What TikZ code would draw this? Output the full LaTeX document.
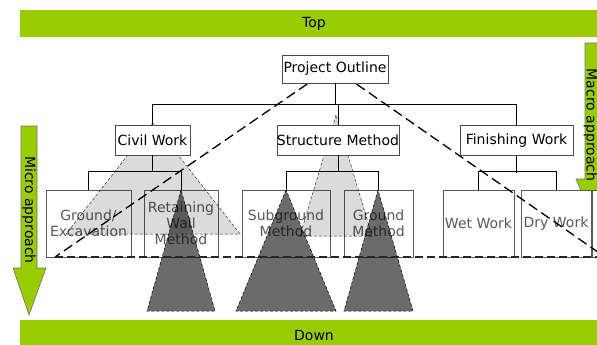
\documentclass[tikz,border=0pt]{standalone}
\usepackage{fontspec}
\setmainfont{DejaVu Sans}
\usetikzlibrary{positioning, calc}
\definecolor{barGreen}{RGB}{153,204,0}

\tikzset{
	every node/.style={font=\fontsize{14}{16}\selectfont},
	headbox/.style={draw=black!70, line width=0.8pt, fill=white, inner sep=0pt, minimum height=30pt},
	leafbox/.style={draw=black!65, line width=0.8pt, fill=white, inner sep=0pt, minimum height=67pt, text=black!65, align=center},
	link/.style={draw=black, line width=0.9pt},
	lighttri/.style={fill=black, fill opacity=0.14, draw=black, draw opacity=0.8, dash pattern=on 3pt off 2pt, line width=0.5pt},
	darktri/.style={fill=black, fill opacity=0.58, draw=black, dash pattern=on 3pt off 2pt, line width=0.5pt},
	slant/.style={draw=black, line width=1.3pt, dash pattern=on 10pt off 5pt},
	basedash/.style={draw=black!85, line width=1.8pt, dash pattern=on 8pt off 4pt},
	greenarrow/.style={fill=barGreen, draw=black!55, line width=0.6pt}
}

\begin{document}
\begin{tikzpicture}[x=1pt, y=-1pt]
					\useasboundingbox (0,0) rectangle (597,345);
					\clip (0,0) rectangle (597,345);
					
					% top and bottom bars
					\fill[barGreen] (20,10) rectangle (597,37);
					\fill[barGreen] (20,320) rectangle (597,346);
					\node (top) at (314,24) {Top};
					\node (down) at (314,335) {Down};
					
					% approach arrows
					\path[greenarrow] (21,126) -- (37,126) -- (37,268) -- (46,268) -- (29,315) -- (13,268) -- (21,268) -- cycle;
					\node[rotate=-90] (micro) at (29,210) {Micro approach};
					\path[greenarrow] (585,43) -- (601,43) -- (601,179) -- (610,179) -- (593,220) -- (576,179) -- (585,179) -- cycle;
					\node[rotate=-90, inner sep=0pt] (macro) at (590.5,125) {Macro approach};
					
					% lower level
					\node (11) at (88.5,223.5) [leafbox, minimum width=85pt] {Ground/\\Excavation};
					\node (12) at (181,223.5) [leafbox, minimum width=74pt] {Retaining\\Wall\\Method};
					\node (21) at (286,223.5) [leafbox, minimum width=88pt] {Subground\\Method};
					\node (22) at (378.5,223.5) [leafbox, minimum width=69pt] {Ground\\Method};
					\node (31) at (478.5,223.5) [leafbox, minimum width=71pt] {Wet Work};
					\node (32) at (556,223.5) [leafbox, minimum width=70pt] {Dry Work};
					\node (33) at (617,223.5) [leafbox, minimum width=50pt] {};
					
					% triangles
					\path[lighttri] (153,123) -- (66,234) -- (240,234) -- cycle;
					\path[lighttri] (336,115) -- (300,236) -- (372,236) -- cycle;
					\path[darktri] (181,190) -- (147,311) -- (215,311) -- cycle;
					\path[darktri] (286,190) -- (236,311) -- (336,311) -- cycle;
					\path[darktri] (378,190) -- (344,311) -- (413,311) -- cycle;
					
					\draw[slant] (332,67) -- (55,257);
					\draw[slant] (332,67) -- (605,257);
					\draw[basedash] (55,257) -- (597,257);
					
					% upper level
					\node (0) at (335,69) [headbox, minimum width=106pt, minimum height=28pt] {Project Outline};
					\node (1) at (152.5,140) [headbox, minimum width=75pt] {Civil Work};
					\node (2) at (338,140) [headbox, minimum width=122pt] {Structure Method};
					\node (3) at (516.5,140.5) [headbox, minimum width=113pt] {Finishing Work};
					
					\draw[link] (0.south) -- ++(0,22);
					\draw[link] (1.north) -- ++(0,-20) -| (3.north);
					\draw[link] (2.north) -- ++(0,-20);
					\draw[link] (1.south) -- ++(0,17);
					\draw[link] (11.north) -- ++(0,-18) -| (12.north);
					\draw[link] (2.south) -- ++(0,17);
					\draw[link] (21.north) -- ++(0,-18) -| (22.north);
					\draw[link] (3.south) -- ++(0,17);
					\draw[link] (31.north) -- ++(0,-18) -| (32.north);
				\end{tikzpicture}
\end{document}
